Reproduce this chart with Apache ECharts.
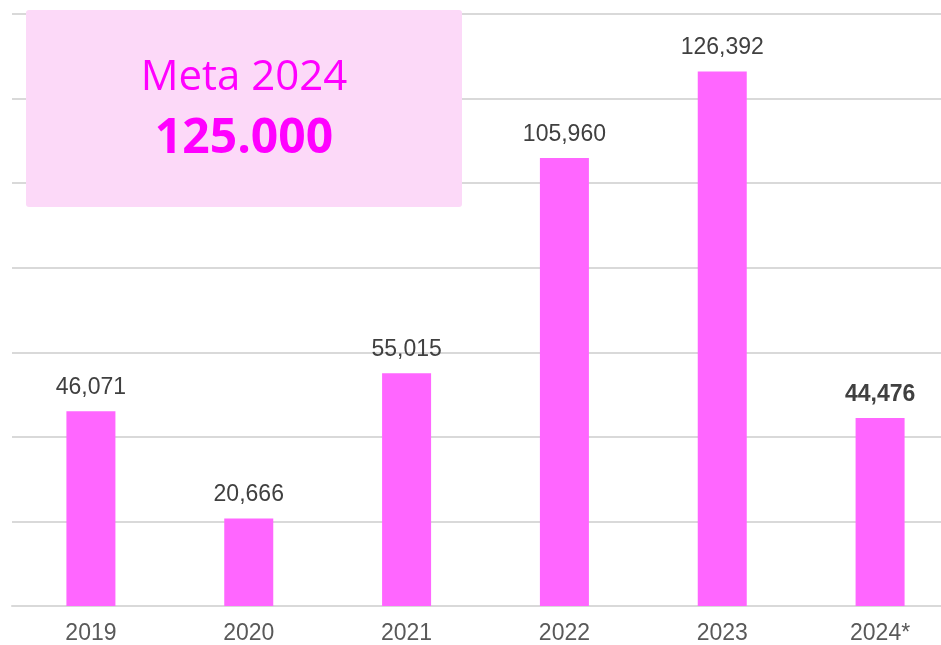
<!DOCTYPE html>
<html>
<head>
<meta charset="utf-8">
<script src="https://cdn.jsdelivr.net/npm/echarts@6/dist/echarts.min.js"></script>
<style>
  html, body { margin: 0; padding: 0; background: #fff; overflow: hidden; }
  #chart { width: 959px; height: 645px; }
</style>
</head>
<body>
<div id="chart"></div>
<script>
// data
var years = ['2019', '2020', '2021', '2022', '2023', '2024*']
var values = [46071, 20666, 55015, 105960, 126392, 44476]
var goalTitle = 'Meta 2024'
var goalValue = '125.000'

// the plot runs past the right edge of the window, so the div is a bit wider
var chart = echarts.init(document.getElementById('chart'))

var barData = values.map(function (v, i) {
  var item = { value: v }
  if (i === values.length - 1) {
    item.label = { fontWeight: 'bold' }
  }
  return item
})

chart.setOption({
  animation: false,
  grid: {
    left: 12,
    right: 0,
    top: 14,
    bottom: 38,
    containLabel: false
  },
  xAxis: {
    type: 'category',
    data: years,
    axisTick: { show: false },
    axisLine: { lineStyle: { color: '#d9d9d9', width: 2 } },
    axisLabel: {
      color: '#595959',
      fontSize: 23,
      fontFamily: 'Liberation Sans',
      margin: 16
    }
  },
  yAxis: {
    type: 'value',
    min: 0,
    max: 140000,
    interval: 20000,
    axisLabel: { show: false },
    axisLine: { show: false },
    axisTick: { show: false },
    splitLine: { lineStyle: { color: '#d9d9d9', width: 2 } }
  },
  series: [{
    type: 'bar',
    data: barData,
    barWidth: 49,
    itemStyle: { color: '#ff66ff' },
    label: {
      show: true,
      position: 'top',
      distance: 12,
      color: '#404040',
      fontSize: 23,
      fontFamily: 'Liberation Sans',
      formatter: function (p) {
        return p.value.toLocaleString('en-US')
      }
    }
  }],
  graphic: [
    {
      type: 'rect',
      shape: { x: 26, y: 10, width: 436, height: 197, r: 3 },
      style: { fill: '#fcd9f8' },
      z: 100
    },
    {
      type: 'text',
      x: 244,
      y: 78,
      style: {
        text: goalTitle,
        fill: '#ff00ff',
        font: '42px "Open Sans"',
        align: 'center',
        verticalAlign: 'middle'
      },
      z: 101
    },
    {
      type: 'text',
      x: 244,
      y: 139,
      style: {
        text: goalValue,
        fill: '#ff00ff',
        font: 'bold 48px "Open Sans"',
        align: 'center',
        verticalAlign: 'middle'
      },
      z: 101
    }
  ]
})
</script>
</body>
</html>
